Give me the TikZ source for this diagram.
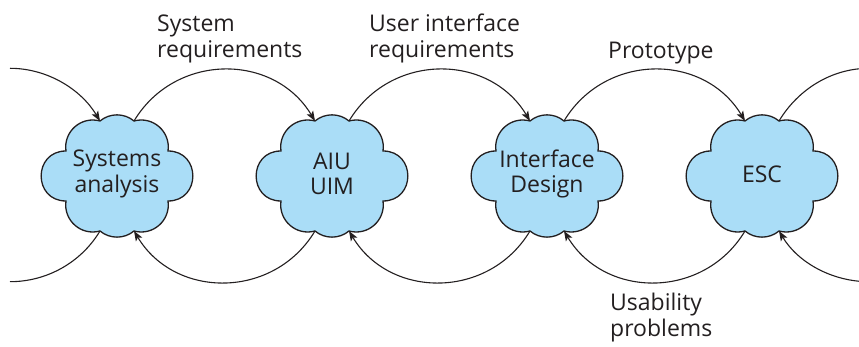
\documentclass[tikz,border=0pt]{standalone}
\usepackage{fontspec}
\setmainfont{Open Sans}
\usetikzlibrary{arrows.meta}

\definecolor{cloudblue}{RGB}{170,221,247}
\definecolor{inkgray}{RGB}{35,31,32}

\tikzset{
  cloudline/.style={draw=inkgray, line width=1.3pt, fill=cloudblue},
  flow/.style={draw=inkgray, line width=1.1pt},
  flowarrow/.style={flow, -{Stealth[length=10pt,width=7.5pt,inset=2.5pt]}},
  cloudtext/.style={font=\fontsize{23}{25.5}\selectfont, text=inkgray,
    align=center, inner sep=0pt},
  labeltext/.style={font=\fontsize{23}{25.5}\selectfont, text=inkgray,
    align=left, inner sep=0pt, anchor=north west},
  % eight-lobed cloud with named notches for the connectors
  pics/cloudpic/.style={code={
    \path[cloudline] (-17,55) coordinate (-tl)
      to[bend left=40,looseness=0.96] (17,55) coordinate (-tr)
      to[bend left=57,looseness=1.1] (51,25)
      to[bend left=90,looseness=1.7] (51,-25)
      to[bend left=57,looseness=1.1] (17,-55) coordinate (-br)
      to[bend left=40,looseness=0.96] (-17,-55) coordinate (-bl)
      to[bend left=57,looseness=1.1] (-51,-25)
      to[bend left=90,looseness=1.7] (-51,25)
      to[bend left=57,looseness=1.1] cycle;
    \node[cloudtext] (-label) at (0,2) {#1};
  }}
}

\begin{document}
\begin{tikzpicture}[x=1pt,y=1pt]
  \path[use as bounding box] (0,0) rectangle (859,347);
  \clip (0,0) rectangle (859,347);

  % activities
  \pic (sa)  at (117,171) {cloudpic={Systems\\analysis}};
  \pic (aiu) at (332,171) {cloudpic={AIU\\UIM}};
  \pic (id)  at (547,171) {cloudpic={Interface\\Design}};
  \pic (esc) at (762,171) {cloudpic={ESC}};

  % loose ends at both sides
  \coordinate (lefttop) at (10,278.7);
  \coordinate (leftbot) at (10,65.3);
  \coordinate (righttop) at (869,278.7);
  \coordinate (rightbot) at (869,65.3);

  % forward flow over the top
  \draw[flowarrow] (lefttop) to[out=0,in=121,looseness=0.91] (sa-tl);
  \draw[flowarrow] (sa-tr) to[out=59,in=121,looseness=1.13] (aiu-tl);
  \draw[flowarrow] (aiu-tr) to[out=59,in=121,looseness=1.13] (id-tl);
  \draw[flowarrow] (id-tr) to[out=59,in=121,looseness=1.13] (esc-tl);
  \draw[flow] (esc-tr) to[out=59,in=180,looseness=0.91] (righttop);

  % feedback underneath
  \draw[flow] (sa-bl) to[out=-121,in=0,looseness=0.91] (leftbot);
  \draw[flowarrow] (aiu-bl) to[out=-121,in=-59,looseness=1.13] (sa-br);
  \draw[flowarrow] (id-bl) to[out=-121,in=-59,looseness=1.13] (aiu-br);
  \draw[flowarrow] (esc-bl) to[out=-121,in=-59,looseness=1.13] (id-br);
  \draw[flowarrow] (rightbot) to[out=180,in=-59,looseness=0.91] (esc-br);

  % labels
  \node[labeltext] (sysreq) at (157,332) {System\\requirements};
  \node[labeltext] (uireq)  at (369,333) {User interface\\requirements};
  \node[labeltext] (proto)  at (608,305) {Prototype};
  \node[labeltext] (usab)   at (610,54)  {Usability\\problems};
\end{tikzpicture}
\end{document}
